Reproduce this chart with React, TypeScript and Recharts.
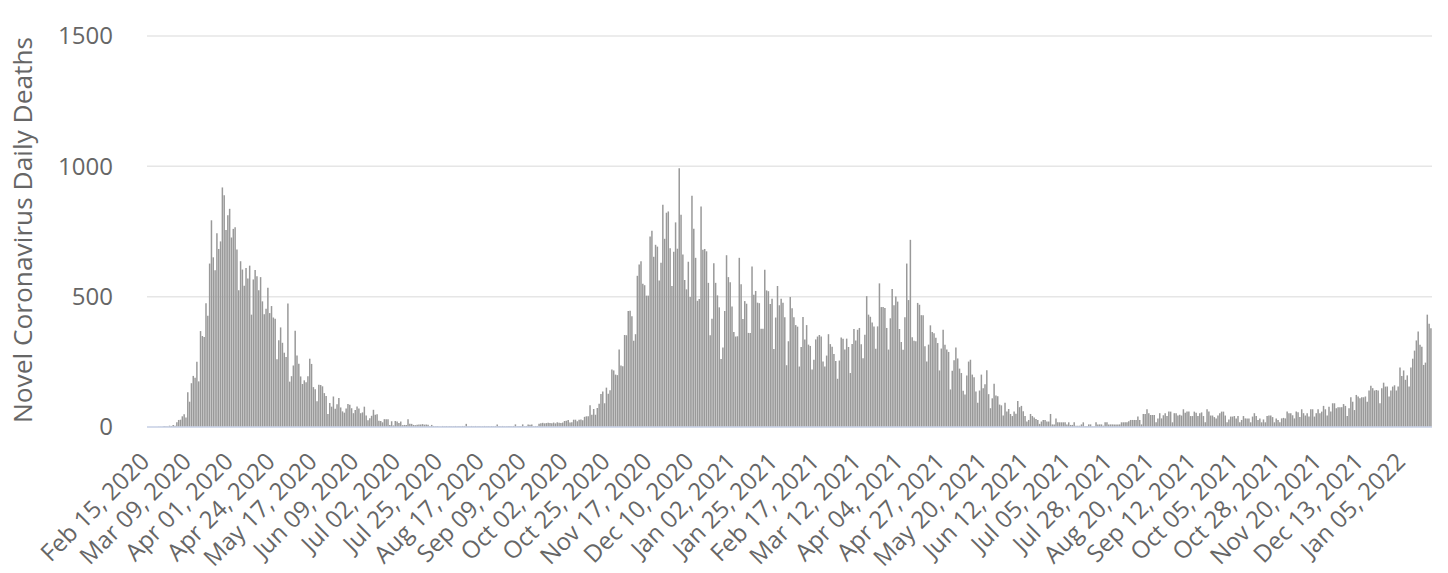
import React from 'react';
import { BarChart, Bar, XAxis, YAxis, CartesianGrid } from 'recharts';

// Daily deaths, one value per day starting Feb 15, 2020
const deathsFeb2020 = [0, 0, 0, 0, 0, 0, 1, 1, 1, 4, 3, 2, 5, 4, 8];
const deathsMar2020 = [5, 18, 27, 28, 41, 49, 36, 133, 97, 168, 196, 189, 250, 175, 368, 349, 345, 475, 427, 627, 793, 651, 601, 743, 683, 712, 919, 889, 756, 812, 837];
const deathsApr2020 = [727, 760, 766, 681, 525, 636, 604, 542, 610, 570, 619, 431, 566, 602, 578, 525, 575, 482, 433, 454, 534, 437, 464, 420, 415, 260, 333, 382, 323, 285];
const deathsMay2020 = [269, 474, 174, 195, 236, 369, 274, 243, 194, 165, 179, 172, 195, 262, 242, 153, 145, 99, 162, 161, 156, 130, 119, 50, 92, 78, 117, 70, 87, 111, 75];
const deathsJun2020 = [60, 55, 71, 88, 85, 72, 53, 65, 79, 71, 53, 56, 78, 44, 26, 34, 43, 66, 47, 49, 24, 23, 18, 30, 30, 30, 8, 22, 6, 23];
const deathsJul2020 = [21, 15, 21, 7, 8, 8, 30, 12, 12, 8, 7, 9, 10, 10, 11, 9, 10, 9, 3, 8, 4, 3, 4, 3, 2, 4, 3, 4, 3, 4, 3];
const deathsAug2020 = [3, 4, 3, 4, 3, 4, 4, 12, 3, 3, 4, 3, 4, 3, 4, 3, 3, 4, 3, 4, 3, 4, 3, 4, 10, 4, 3, 4, 3, 3, 4];
const deathsSep2020 = [4, 3, 4, 10, 3, 4, 4, 10, 3, 4, 10, 9, 10, 3, 4, 4, 12, 14, 16, 14, 15, 16, 15, 14, 17, 14, 18, 16, 15, 17];
const deathsOct2020 = [23, 24, 27, 17, 18, 28, 28, 22, 28, 29, 26, 39, 41, 41, 83, 47, 69, 47, 73, 89, 127, 136, 91, 151, 128, 141, 221, 217, 201, 199, 297];
const deathsNov2020 = [236, 233, 353, 352, 445, 446, 425, 331, 356, 580, 623, 636, 550, 544, 504, 504, 731, 753, 653, 699, 692, 562, 630, 853, 722, 822, 827, 686, 541, 672];
const deathsDec2020 = [785, 684, 993, 814, 662, 564, 528, 634, 499, 887, 761, 649, 484, 491, 846, 680, 683, 674, 553, 352, 415, 628, 553, 505, 459, 261, 305, 445, 659, 575, 555];
const deathsJan2021 = [462, 364, 347, 348, 649, 548, 414, 483, 473, 361, 361, 616, 507, 522, 477, 475, 377, 377, 603, 524, 521, 472, 492, 299, 420, 541, 467, 492, 477, 421, 237];
const deathsFeb2021 = [329, 499, 456, 421, 391, 385, 232, 307, 422, 336, 391, 316, 311, 221, 258, 336, 347, 353, 347, 251, 232, 274, 356, 318, 308, 280, 253, 185];
const deathsMar2021 = [255, 343, 339, 297, 339, 307, 207, 318, 376, 332, 373, 380, 317, 264, 354, 502, 431, 423, 401, 386, 300, 386, 551, 460, 460, 457, 380, 297, 417, 529, 467];
const deathsApr2021 = [501, 481, 376, 326, 296, 421, 627, 487, 718, 344, 331, 329, 476, 469, 429, 429, 310, 251, 316, 390, 364, 360, 342, 322, 217, 301, 373, 316, 297, 288];
const deathsMay2021 = [144, 216, 256, 305, 263, 224, 207, 139, 125, 198, 251, 258, 201, 191, 136, 93, 140, 201, 149, 164, 218, 126, 72, 110, 166, 121, 118, 86, 83, 44, 93];
const deathsJun2021 = [59, 69, 50, 42, 59, 51, 100, 76, 81, 60, 42, 21, 27, 50, 42, 36, 31, 27, 12, 21, 27, 27, 21, 21, 50, 10, 10, 33, 18, 18];
const deathsJul2021 = [18, 18, 18, 10, 18, 8, 8, 18, 5, 5, 5, 10, 18, 3, 3, 10, 10, 2, 2, 18, 10, 10, 10, 5, 18, 18, 10, 10, 10, 10, 10];
const deathsAug2021 = [10, 10, 18, 18, 18, 18, 22, 27, 27, 27, 27, 40, 27, 10, 50, 50, 68, 53, 46, 46, 46, 18, 33, 53, 33, 45, 53, 42, 59, 59, 18];
const deathsSep2021 = [53, 53, 44, 47, 44, 68, 55, 59, 59, 42, 42, 59, 55, 42, 53, 56, 42, 18, 68, 59, 44, 44, 38, 33, 44, 53, 59, 59, 44, 18];
const deathsOct2021 = [29, 40, 40, 42, 33, 42, 18, 27, 42, 33, 33, 33, 18, 40, 53, 42, 27, 33, 18, 29, 18, 42, 44, 44, 38, 18, 33, 27, 18, 33, 35];
const deathsNov2021 = [33, 59, 53, 53, 45, 33, 59, 57, 38, 68, 53, 44, 53, 40, 68, 68, 40, 53, 68, 53, 59, 81, 68, 44, 78, 59, 91, 91, 72, 76];
const deathsDec2021 = [76, 76, 88, 81, 42, 72, 114, 97, 65, 123, 117, 110, 114, 114, 117, 97, 140, 158, 149, 140, 142, 140, 91, 149, 170, 155, 155, 117, 140, 155, 160];
const deathsJan2022 = [140, 155, 228, 196, 217, 181, 198, 155, 228, 262, 293, 332, 366, 316, 308, 238, 247, 431, 396, 379];

const dailyDeaths = [
  ...deathsFeb2020, ...deathsMar2020, ...deathsApr2020, ...deathsMay2020, ...deathsJun2020,
  ...deathsJul2020, ...deathsAug2020, ...deathsSep2020, ...deathsOct2020, ...deathsNov2020, ...deathsDec2020,
  ...deathsJan2021, ...deathsFeb2021, ...deathsMar2021, ...deathsApr2021, ...deathsMay2021, ...deathsJun2021,
  ...deathsJul2021, ...deathsAug2021, ...deathsSep2021, ...deathsOct2021, ...deathsNov2021, ...deathsDec2021,
  ...deathsJan2022,
];

const monthNames = ['Jan', 'Feb', 'Mar', 'Apr', 'May', 'Jun', 'Jul', 'Aug', 'Sep', 'Oct', 'Nov', 'Dec'];
const firstDay = Date.UTC(2020, 1, 15);
const yTicks = [0, 500, 1000, 1500];
const yTitle = 'Novel Coronavirus Daily Deaths';

function dayLabel(i: number): string {
  const d = new Date(firstDay + i * 86400000);
  const dd = String(d.getUTCDate()).padStart(2, '0');
  return `${monthNames[d.getUTCMonth()]} ${dd}, ${d.getUTCFullYear()}`;
}

const data = dailyDeaths.map((v, i) => ({ date: dayLabel(i), deaths: v }));

const FONT = '"Open Sans", "DejaVu Sans", sans-serif';

function XTick(props: any) {
  const { x, y, payload } = props;
  const ax = x + 3;
  const ay = y + 36;
  return (
    <text
      x={ax}
      y={ay}
      transform={`rotate(-45, ${ax}, ${ay})`}
      textAnchor="end"
      fill="#666666"
      fontSize={24}
      fontFamily={FONT}
    >
      {payload.value}
    </text>
  );
}

function YTick(props: any) {
  const { x, y, payload } = props;
  return (
    <text
      x={x - 34}
      y={y}
      dy="0.35em"
      textAnchor="end"
      fill="#666666"
      fontSize={24}
      fontFamily={FONT}
    >
      {payload.value}
    </text>
  );
}

export default function App() {
  return (
    <div style={{ position: 'absolute', left: 0, top: 0, width: 1448, height: 573, background: '#ffffff' }}>
      <BarChart
        width={1448}
        height={573}
        data={data}
        margin={{ top: 36, right: 16, bottom: 6, left: 0 }}
        barCategoryGap="0%"
      >
        <CartesianGrid vertical={false} stroke="#e6e6e6" strokeWidth={1.5} />
        <XAxis
          dataKey="date"
          interval={22}
          height={140}
          tickLine={false}
          tickSize={0}
          tickMargin={0}
          axisLine={{ stroke: '#ccd6eb', strokeWidth: 1.5 }}
          tick={(p: any) => <XTick {...p} />}
        />
        <YAxis
          width={147}
          domain={[0, 1500]}
          ticks={yTicks}
          axisLine={false}
          tickLine={false}
          tickSize={0}
          tickMargin={0}
          tick={(p: any) => <YTick {...p} />}
        />
        <Bar dataKey="deaths" fill="#999999" barSize={1.5} isAnimationActive={false} />
      </BarChart>
      <svg
        width={60}
        height={573}
        style={{ position: 'absolute', left: 0, top: 0, pointerEvents: 'none' }}
      >
        <text
          x={22}
          y={230}
          transform="rotate(-90, 22, 230)"
          textAnchor="middle"
          dominantBaseline="central"
          fill="#666666"
          fontSize={26.3}
          fontFamily={FONT}
        >
          {yTitle}
        </text>
      </svg>
    </div>
  );
}
